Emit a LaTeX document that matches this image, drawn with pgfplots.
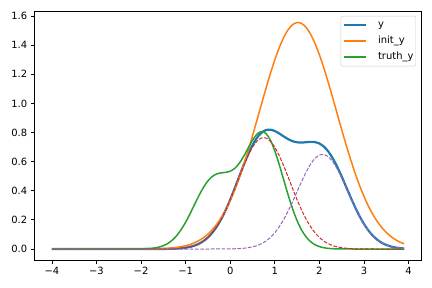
\documentclass[border=0pt]{standalone}
\usepackage{fontspec}
\setmainfont{DejaVu Sans}
\usepackage{pgfplots}
\usepackage{pgfplotstable}
\pgfplotsset{compat=1.18}
\definecolor{tabblue}{HTML}{1F77B4}
\definecolor{taborange}{HTML}{FF7F0E}
\definecolor{tabgreen}{HTML}{2CA02C}
\definecolor{tabred}{HTML}{D62728}
\definecolor{tabpurple}{HTML}{9467BD}
\pgfplotstableread{
x      y       init    truth   r       p
-4.0   0.0000  0.0000  0.0000  0.0000  0.0000
-3.5   0.0000  0.0000  0.0000  0.0000  0.0000
-3.0   0.0000  0.0000  0.0000  0.0000  0.0000
-2.5   0.0000  0.0000  0.0000  0.0000  0.0000
-2.0   0.0000  0.0004  0.0009  0.0000  0.0000
-1.9   0.0000  0.0006  0.0019  0.0000  0.0000
-1.8   0.0001  0.0010  0.0037  0.0001  0.0000
-1.7   0.0001  0.0015  0.0072  0.0001  0.0000
-1.6   0.0003  0.0024  0.0132  0.0003  0.0000
-1.5   0.0005  0.0036  0.0230  0.0005  0.0000
-1.4   0.0009  0.0053  0.0383  0.0009  0.0000
-1.3   0.0017  0.0078  0.0608  0.0017  0.0000
-1.2   0.0031  0.0112  0.0923  0.0031  0.0000
-1.1   0.0054  0.0160  0.1335  0.0054  0.0000
-1.0   0.0090  0.0226  0.1843  0.0090  0.0000
-0.9   0.0148  0.0314  0.2429  0.0148  0.0000
-0.8   0.0235  0.0430  0.3057  0.0235  0.0000
-0.7   0.0363  0.0582  0.3676  0.0363  0.0000
-0.6   0.0545  0.0778  0.4234  0.0545  0.0000
-0.5   0.0794  0.1025  0.4681  0.0794  0.0000
-0.4   0.1126  0.1333  0.4988  0.1125  0.0001
-0.3   0.1549  0.1710  0.5159  0.1548  0.0001
-0.2   0.2071  0.2164  0.5230  0.2069  0.0002
-0.1   0.2690  0.2704  0.5266  0.2685  0.0005
 0.0   0.3395  0.3334  0.5345  0.3386  0.0009
 0.1   0.4164  0.4056  0.5536  0.4147  0.0017
 0.2   0.4965  0.4870  0.5876  0.4935  0.0030
 0.3   0.5757  0.5768  0.6357  0.5705  0.0052
 0.4   0.6494  0.6742  0.6921  0.6405  0.0089
 0.5   0.7135  0.7777  0.7470  0.6988  0.0147
 0.6   0.7638  0.8851  0.7886  0.7404  0.0234
 0.7   0.7984  0.9938  0.8066  0.7622  0.0362
 0.8   0.8166  1.1013  0.7937  0.7622  0.0544
 0.9   0.8195  1.2042  0.7482  0.7404  0.0791
 1.0   0.8105  1.2993  0.6741  0.6988  0.1117
 1.1   0.7934  1.3833  0.5792  0.6405  0.1529
 1.2   0.7734  1.4533  0.4745  0.5705  0.2029
 1.3   0.7545  1.5065  0.3702  0.4935  0.2610
 1.4   0.7405  1.5411  0.2751  0.4147  0.3258
 1.5   0.7330  1.5556  0.1946  0.3386  0.3944
 1.6   0.7312  1.5493  0.1310  0.2685  0.4627
 1.7   0.7335  1.5227  0.0840  0.2069  0.5266
 1.8   0.7359  1.4768  0.0513  0.1548  0.5811
 1.9   0.7342  1.4132  0.0298  0.1125  0.6217
 2.0   0.7245  1.3344  0.0165  0.0794  0.6451
 2.1   0.7036  1.2434  0.0087  0.0545  0.6491
 2.2   0.6696  1.1432  0.0043  0.0363  0.6333
 2.3   0.6227  1.0372  0.0021  0.0235  0.5992
 2.4   0.5645  0.9285  0.0009  0.0148  0.5497
 2.5   0.4981  0.8203  0.0004  0.0090  0.4891
 2.6   0.4273  0.7150  0.0002  0.0054  0.4219
 2.7   0.3561  0.6149  0.0001  0.0031  0.3530
 2.8   0.2880  0.5219  0.0000  0.0017  0.2863
 2.9   0.2261  0.4371  0.0000  0.0009  0.2252
 3.0   0.1723  0.3613  0.0000  0.0005  0.1718
 3.1   0.1274  0.2947  0.0000  0.0003  0.1271
 3.2   0.0912  0.2371  0.0000  0.0001  0.0911
 3.3   0.0634  0.1883  0.0000  0.0000  0.0634
 3.4   0.0428  0.1475  0.0000  0.0000  0.0428
 3.5   0.0280  0.1140  0.0000  0.0000  0.0280
 3.6   0.0177  0.0870  0.0000  0.0000  0.0177
 3.7   0.0109  0.0655  0.0000  0.0000  0.0109
 3.8   0.0065  0.0486  0.0000  0.0000  0.0065
 3.9   0.0038  0.0356  0.0000  0.0000  0.0038
}\datatable
\begin{document}
\begin{tikzpicture}
\begin{axis}[
  at={(34.3bp,28bp)},
  scale only axis,
  width=387.4bp, height=248.3bp,
  xmin=-4.395, xmax=4.295,
  ymin=-0.0755, ymax=1.63,
  axis line style={line width=0.8bp},
  tick style={line width=0.8bp, black},
  tick align=outside,
  major tick length=3.5bp,
  xtick={-4,-3,-2,-1,0,1,2,3,4},
  xticklabels={−4,−3,−2,−1,0,1,2,3,4},
  ytick={0,0.2,0.4,0.6,0.8,1.0,1.2,1.4,1.6},
  yticklabels={0.0,0.2,0.4,0.6,0.8,1.0,1.2,1.4,1.6},
  xtick pos=bottom, ytick pos=left,
  tick label style={font=\fontsize{10}{12}\selectfont},
  xticklabel style={inner sep=0pt, yshift=-3.5bp},
  yticklabel style={inner sep=0pt, xshift=-3.5bp},
  legend style={at={(1,1)}, anchor=north east, xshift=-5.7bp, yshift=-4.3bp,
    draw=black!20, rounded corners=2pt, font=\fontsize{10}{12}\selectfont,
    inner xsep=2.3bp, inner ysep=1bp, row sep=0pt,
    /tikz/every odd column/.append style={column sep=11bp},
    nodes={inner xsep=0pt, inner ysep=2.5bp, text height=8bp, text depth=3bp}},
  legend cell align=left,
  legend image code/.code={\draw[#1] (0bp,0bp) -- (21.7bp,0bp);},
  every axis plot/.append style={line join=round},
]
\addlegendimage{color=tabblue, draw=tabblue, line width=2.2bp}
\addlegendentry{y}
\addlegendimage{color=taborange, draw=taborange, line width=1.5bp}
\addlegendentry{init\_y}
\addlegendimage{color=tabgreen, draw=tabgreen, line width=1.5bp}
\addlegendentry{truth\_y}
\addplot[tabblue, line width=2.2bp, smooth, forget plot] table[x=x, y=y] {\datatable};
\addplot[taborange, line width=1.5bp, smooth, forget plot] table[x=x, y=init] {\datatable};
\addplot[tabgreen, line width=1.5bp, smooth, forget plot] table[x=x, y=truth] {\datatable};
\addplot[tabred, line width=1bp, dash pattern=on 3.7bp off 1.6bp, smooth, forget plot] table[x=x, y=r] {\datatable};
\addplot[tabpurple, line width=1bp, dash pattern=on 3.7bp off 1.6bp, smooth, forget plot] table[x=x, y=p] {\datatable};
\end{axis}
\pgfresetboundingbox
\path (0,0) rectangle (432bp,288bp);
\end{tikzpicture}
\end{document}
